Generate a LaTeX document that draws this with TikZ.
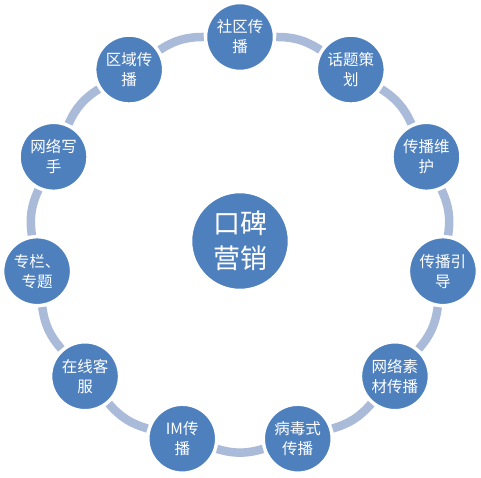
\documentclass[tikz,border=0pt]{standalone}
\usepackage{fontspec}
\setmainfont{Noto Sans CJK SC}
\usetikzlibrary{calc}
\definecolor{nodeblue}{HTML}{4F80BE}
\definecolor{ringblue}{HTML}{AABAD9}
\begin{document}
\begin{tikzpicture}[x=1pt,y=1pt,
  outer/.style={circle,fill=nodeblue,draw=white,line width=2.5pt,minimum size=68pt,inner sep=0pt,
    text=white,align=center,font=\fontsize{15.5}{20}\selectfont},
  hub/.style={circle,fill=nodeblue,draw=white,line width=2.5pt,minimum size=98pt,inner sep=0pt,
    text=white,align=center,font=\fontsize{27}{35}\selectfont},
  ring/.style={draw=ringblue,line width=8.5pt,bend left=16.4,shorten <=1pt,shorten >=1pt}]
\fill[white] (0,0) rectangle (481,477);
\useasboundingbox (0,0) rectangle (481,477);
\coordinate (c) at (240,235);
\node[hub] (hub) at (240,236) {口碑\\营销};
\node[outer] (n1)  at ($(c)+(90:205)$)     {社区传\\播};
\node[outer] (n2)  at ($(c)+(57.27:205)$)  {话题策\\划};
\node[outer] (n3)  at ($(c)+(24.55:205)$)  {传播维\\护};
\node[outer] (n4)  at ($(c)+(-8.18:205)$)  {传播引\\导};
\node[outer] (n5)  at ($(c)+(-40.91:205)$) {网络素\\材传播};
\node[outer] (n6)  at ($(c)+(-73.64:205)$) {病毒式\\传播};
\node[outer] (n7)  at ($(c)+(-106.36:205)$) {IM传\\播};
\node[outer] (n8)  at ($(c)+(-139.09:205)$) {在线客\\服};
\node[outer] (n9)  at ($(c)+(-171.82:205)$) {专栏、\\专题};
\node[outer] (n10) at ($(c)+(155.45:205)$) {网络写\\手};
\node[outer] (n11) at ($(c)+(122.73:205)$) {区域传\\播};
\foreach \a/\b in {n1/n2,n2/n3,n3/n4,n4/n5,n5/n6,n6/n7,n7/n8,n8/n9,n9/n10,n10/n11,n11/n1}
  \draw[ring] (\a) to (\b);
\end{tikzpicture}
\end{document}
